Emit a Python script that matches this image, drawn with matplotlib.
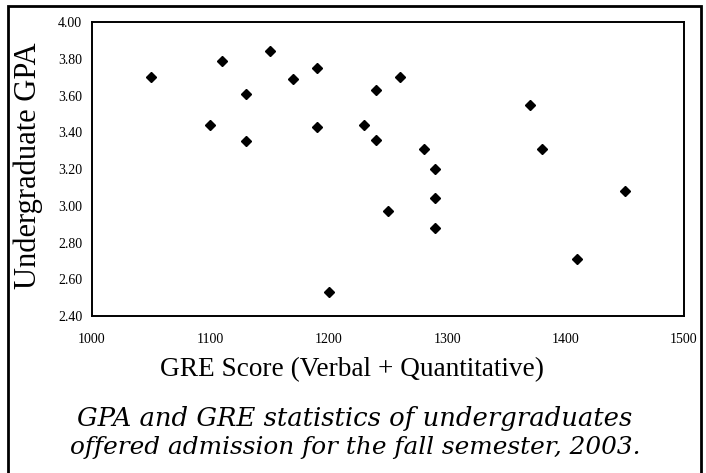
import matplotlib.pyplot as plt
from matplotlib.patches import Rectangle

# GRE score (verbal + quantitative) and undergraduate GPA
gre = [1050, 1100, 1110, 1130, 1130, 1150, 1170, 1190, 1190, 1200, 1230, 1240,
       1240, 1250, 1260, 1280, 1290, 1290, 1290, 1370, 1380, 1410, 1450]
gpa = [3.70, 3.44, 3.79, 3.61, 3.35, 3.84, 3.69, 3.75, 3.43, 2.53, 3.44, 3.63,
       3.36, 2.97, 3.70, 3.31, 3.20, 3.04, 2.88, 3.55, 3.31, 2.71, 3.08]

x_ticks = [1000, 1100, 1200, 1300, 1400, 1500]
y_ticks = [2.40, 2.60, 2.80, 3.00, 3.20, 3.40, 3.60, 3.80, 4.00]

serif = ['Liberation Serif', 'DejaVu Serif']

fig = plt.figure(figsize=(7.06, 4.73), dpi=100)
W, H = 706, 473

# outer frame around the whole figure
frame = Rectangle((8 / W, -0.05), (701 - 8) / W, 1.05 - 6 / H,
                  transform=fig.transFigure, fill=False, lw=2.0,
                  edgecolor='black', clip_on=False)
fig.patches.append(frame)

ax = fig.add_axes([92 / W, 1 - 316 / H, (684 - 92) / W, (316 - 22) / H])
ax.plot(gre, gpa, linestyle='none', marker='D', ms=5.4, color='black')

ax.set_xlim(1000, 1500)
ax.set_ylim(2.40, 4.00)
ax.set_xticks(x_ticks)
ax.set_xticklabels([str(v) for v in x_ticks], family=serif, fontsize=10)
ax.set_yticks(y_ticks)
ax.set_yticklabels(['%.2f' % v for v in y_ticks], family=serif, fontsize=10)
ax.tick_params(axis='both', length=0)
ax.tick_params(axis='x', pad=12)
ax.tick_params(axis='y', pad=7)
for sp in ax.spines.values():
    sp.set_linewidth(1.4)

# axis titles
fig.text(352 / W, 1 - 370 / H, 'GRE Score (Verbal + Quantitative)',
         ha='center', va='center', family=serif, fontsize=19.6)
fig.text(28 / W, 1 - 166 / H, 'Undergraduate GPA', rotation=90,
         ha='center', va='center', family=serif, fontsize=22)

# caption
fig.text(355 / W, 1 - 418 / H, 'GPA and GRE statistics of undergraduates',
         ha='center', va='center', family='DejaVu Serif', style='italic',
         fontsize=18.6)
fig.text(355 / W, 1 - 447 / H, 'offered admission for the fall semester, 2003.',
         ha='center', va='center', family='DejaVu Serif', style='italic',
         fontsize=17.8)

fig.savefig('out.png', dpi=100)
